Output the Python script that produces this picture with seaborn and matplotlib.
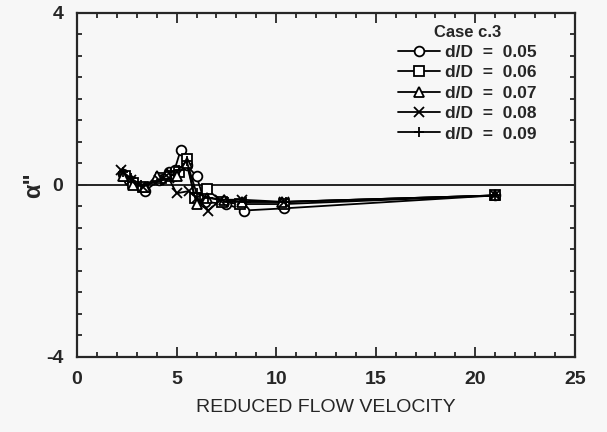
import numpy as np
import pandas as pd
import matplotlib
matplotlib.use("Agg")
import matplotlib.pyplot as plt
from matplotlib.ticker import MultipleLocator
import seaborn as sns

# donnees (Case c.3)
labels = ["d/D  =  0.05", "d/D  =  0.06", "d/D  =  0.07", "d/D  =  0.08", "d/D  =  0.09"]
marqueurs = ["o", "s", "^", "x", "+"]

x_005 = [2.3, 2.6, 3.4, 4.1, 4.6, 4.9, 5.2, 5.5, 6.0, 6.4, 7.5, 8.4, 10.4, 21.0]
y_005 = [0.25, 0.1, -0.15, 0.1, 0.3, 0.35, 0.8, 0.45, 0.2, -0.4, -0.45, -0.6, -0.55, -0.25]

x_006 = [2.4, 2.8, 3.3, 4.2, 4.7, 5.1, 5.5, 5.9, 6.5, 7.3, 8.2, 10.4, 21.0]
y_006 = [0.2, 0.05, -0.05, 0.15, 0.2, 0.3, 0.6, -0.3, -0.1, -0.4, -0.45, -0.45, -0.25]

x_007 = [2.3, 2.8, 3.4, 4.0, 4.5, 5.0, 5.5, 6.0, 6.5, 7.4, 8.3, 10.3, 21.0]
y_007 = [0.2, 0.0, -0.05, 0.2, 0.25, 0.2, 0.5, -0.45, -0.3, -0.35, -0.4, -0.4, -0.25]

x_008 = [2.2, 2.7, 3.3, 4.1, 4.6, 5.0, 5.6, 6.0, 6.6, 7.2, 8.3, 10.4, 21.0]
y_008 = [0.35, 0.1, -0.05, 0.1, 0.15, -0.2, -0.15, -0.3, -0.6, -0.35, -0.35, -0.4, -0.25]

x_009 = [2.3, 2.7, 3.2, 4.2, 4.7, 5.1, 5.5, 6.0, 6.6, 7.6, 8.5, 10.5, 21.0]
y_009 = [0.3, 0.15, 0.0, 0.1, 0.3, 0.35, 0.55, -0.2, -0.3, -0.4, -0.4, -0.4, -0.25]

xs = [x_005, x_006, x_007, x_008, x_009]
ys = [y_005, y_006, y_007, y_008, y_009]

sns.set_style("ticks")
plt.rcParams['font.family'] = ['Liberation Sans', 'DejaVu Sans']
plt.rcParams['axes.unicode_minus'] = False

fond = "#f7f7f7"
fig = plt.figure(figsize=(6.07, 4.32), dpi=100, facecolor=fond)
ax = fig.add_axes([0.127, 0.174, 0.82, 0.797])
ax.set_facecolor(fond)

##Courbes
for lab, m, x, y in zip(labels, marqueurs, xs, ys):
    df = pd.DataFrame({"V": x, "a": y})
    sns.lineplot(data=df, x="V", y="a", ax=ax, sort=False, estimator=None,
                 color="black", linewidth=1.3, marker=m, markersize=7,
                 markerfacecolor="white", markeredgecolor="black",
                 markeredgewidth=1.3, label=lab)

ax.axhline(0, color="black", linewidth=1.2, zorder=0)

##Axes
ax.set_xlim(0, 25)
ax.set_ylim(-4, 4)
ax.xaxis.set_major_locator(MultipleLocator(5))
ax.xaxis.set_minor_locator(MultipleLocator(1))
ax.yaxis.set_major_locator(MultipleLocator(4))
ax.yaxis.set_minor_locator(MultipleLocator(0.5))
ax.tick_params(which="both", direction="in", top=True, right=True, width=1.3)
ax.tick_params(which="major", length=7, labelsize=14, pad=10)
ax.tick_params(which="minor", length=3.5)
for t in ax.get_xticklabels() + ax.get_yticklabels():
    t.set_fontweight("bold")
for s in ax.spines.values():
    s.set_linewidth(1.6)

ax.set_xlabel("REDUCED FLOW VELOCITY", fontsize=14, labelpad=8)
ax.set_ylabel('α"', fontsize=17, fontweight="bold")
ax.yaxis.set_label_coords(-0.065, 0.5)

leg = ax.legend(loc="upper right", bbox_to_anchor=(0.955, 1.01), frameon=False,
                title="Case c.3", fontsize=12.5, handlelength=2.4,
                handletextpad=0.3, labelspacing=0.3)
leg.get_title().set_fontweight("bold")
leg.get_title().set_fontsize(12)
for t in leg.get_texts():
    t.set_fontweight("bold")

fig.savefig("out.png", dpi=100, facecolor=fond)
